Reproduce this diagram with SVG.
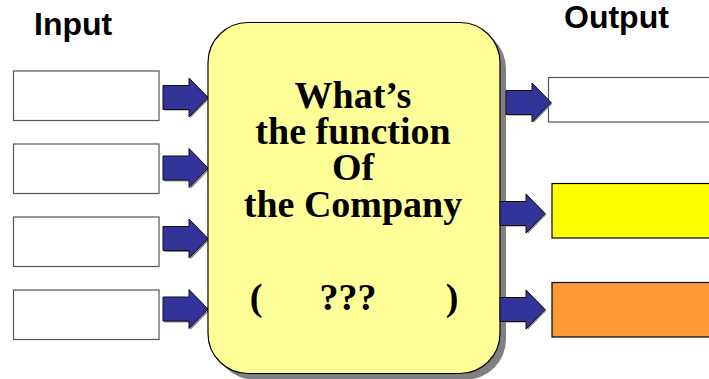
<svg xmlns="http://www.w3.org/2000/svg" xmlns:xlink="http://www.w3.org/1999/xlink" width="709" height="379" viewBox="0 0 709 379">
<style>
.hdr{font-family:"Liberation Sans",Arial,sans-serif;font-weight:bold;font-size:32px;fill:#000}
.main{font-family:"Liberation Serif","Times New Roman",serif;font-weight:bold;font-size:38px;fill:#000;text-anchor:middle}
.inbox{fill:#fff;stroke:#555;stroke-width:1.2}
.arrow{fill:#333399;stroke:#111;stroke-width:1}
.ashadow{fill:#888}
</style>
<defs>
<path id="arr" d="M0,-12 H26 V-19.5 L45,0 L26,19.5 V12 H0 Z"/>
</defs>
<rect width="709" height="379" fill="#fff"/>
<text class="hdr" x="34" y="35">Input</text>
<text class="hdr" x="564" y="28">Output</text>

<g id="inputs">
<rect class="inbox" x="13.5" y="71" width="145.5" height="49.5"/>
<rect class="inbox" x="13.5" y="144" width="145.5" height="49.5"/>
<rect class="inbox" x="13.5" y="217" width="145.5" height="49.5"/>
<rect class="inbox" x="13.5" y="290" width="145.5" height="49.5"/>
</g>

<g id="outputs">
<rect x="548.5" y="77.5" width="170" height="44.5" fill="#fff" stroke="#555" stroke-width="1.2"/>
<rect x="552" y="183.5" width="170" height="54.5" fill="#ffff00" stroke="#000" stroke-width="1.2"/>
<rect x="552" y="282.5" width="170" height="54.5" fill="#ff9933" stroke="#000" stroke-width="1.2"/>
</g>

<g id="connectors">
<use xlink:href="#arr" class="ashadow" transform="translate(164.5,98.5)"/>
<use xlink:href="#arr" class="arrow" transform="translate(163,97.5)"/>
<use xlink:href="#arr" class="ashadow" transform="translate(164.5,169.5)"/>
<use xlink:href="#arr" class="arrow" transform="translate(163,168)"/>
<use xlink:href="#arr" class="ashadow" transform="translate(164.5,240)"/>
<use xlink:href="#arr" class="arrow" transform="translate(163,238.5)"/>
<use xlink:href="#arr" class="ashadow" transform="translate(164.5,310.5)"/>
<use xlink:href="#arr" class="arrow" transform="translate(163,309)"/>
</g>

<g id="center">
<rect x="214" y="28.5" width="292" height="351" rx="40" ry="40" fill="#808080"/>
<rect x="208" y="22.5" width="292" height="351" rx="40" ry="40" fill="#ffff99" stroke="#000" stroke-width="1.2"/>
<text class="main" x="353" y="108">What’s</text>
<text class="main" x="353" y="144">the function</text>
<text class="main" x="353" y="180">Of</text>
<text class="main" x="353" y="216.5">the Company</text>
<text class="main" y="310"><tspan x="256">(</tspan><tspan x="348">???</tspan><tspan x="452">)</tspan></text>
</g>

<g id="connectors-out">
<use xlink:href="#arr" class="ashadow" transform="translate(507.5,103.5)"/>
<use xlink:href="#arr" class="arrow" transform="translate(506,102.5)"/>
<use xlink:href="#arr" class="ashadow" transform="translate(501.5,214.5)"/>
<use xlink:href="#arr" class="arrow" transform="translate(500,213.5)"/>
<use xlink:href="#arr" class="ashadow" transform="translate(501.5,310.5)"/>
<use xlink:href="#arr" class="arrow" transform="translate(500,309.5)"/>
</g>
</svg>
